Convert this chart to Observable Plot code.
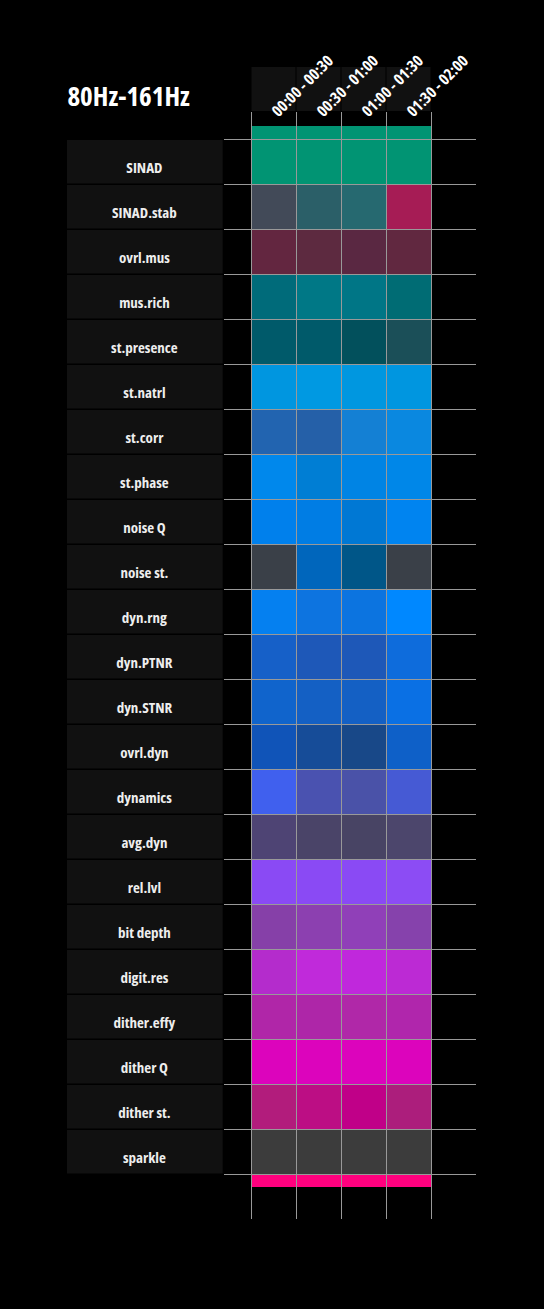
<!DOCTYPE html>
<html><head><meta charset="utf-8">
<script src="https://cdn.jsdelivr.net/npm/d3@7"></script>
<script src="https://cdn.jsdelivr.net/npm/@observablehq/plot@0.6"></script>
<style>
html,body{margin:0;padding:0;background:#000;}
#chart svg{display:block;}
</style></head><body><div id="chart"></div>
<script>
const title = "80Hz-161Hz";
const periods = ["00:00 - 00:30", "00:30 - 01:00", "01:00 - 01:30", "01:30 - 02:00"];
const metrics = ["SINAD", "SINAD.stab", "ovrl.mus", "mus.rich", "st.presence", "st.natrl", "st.corr",
  "st.phase", "noise Q", "noise st.", "dyn.rng", "dyn.PTNR", "dyn.STNR", "ovrl.dyn", "dynamics",
  "avg.dyn", "rel.lvl", "bit depth", "digit.res", "dither.effy", "dither Q", "dither st.", "sparkle"];
const col1 = ["#019473","#424a58","#632640","#006b7a","#005a6a","#0096e0","#2264b0","#0088ec","#0080ec","#3a4048","#0580f0","#1660c8","#1064cc","#1054b8","#4060ee","#4e4474","#8a4af4","#8640a8","#b42ccc","#b026a8","#dc04bc","#b21c7c","#3c3c3c"];
const col2 = ["#019473","#2b5f68","#5d2a40","#007886","#005a6a","#0099e2","#2560a8","#007ed4","#007de4","#0066bc","#0d74e0","#1e58b8","#1460c4","#164c98","#4a52b0","#4a4468","#8a4af4","#8c40b0","#c02ada","#ae26a8","#dc04bc","#bc0e84","#3c3c3c"];
const col3 = ["#019473","#266970","#5a2842","#007686","#02505c","#0097e0","#1480d4","#0084e4","#0078d4","#005688","#0c74e0","#1e58b8","#1460c4","#184888","#4a52a8","#484464","#8a4af4","#9040b8","#c028dc","#b028a8","#dc04bc","#c00088","#3c3c3c"];
const col4 = ["#019473","#a61c55","#612840","#006c74","#1b4f58","#0096e0","#0a88e0","#0087e8","#0084f0","#3a4048","#0088ff","#0e6cdc","#0a70e4","#0e60c8","#465ad4","#4c466c","#8c4cf4","#8642ac","#bc2ad4","#b026ac","#dc04bc","#ac1e7c","#3c3c3c"];
const capColor = "#ff007e";

const columns = [col1, col2, col3, col4];
const cells = metrics.flatMap((m, i) => periods.map((p, j) => ({metric: m, period: p, row: i, col: j, color: columns[j][i]})));
const topCap = periods.map((p, j) => ({col: j, color: columns[j][0]}));
const bottomCap = periods.map((p, j) => ({col: j, color: capColor}));
const rows = metrics.map((m, i) => ({metric: m, row: i}));
const heads = periods.map((p, j) => ({period: p, col: j}));

const cap = 13 / 45;
const font = "'Open Sans', sans-serif";

const chart = Plot.plot({
  width: 544, height: 1309,
  marginLeft: 251, marginRight: 113, marginTop: 139, marginBottom: 135,
  style: {background: "#000", fontFamily: font, fontStretch: "condensed"},
  x: {type: "linear", domain: [0, periods.length], axis: null},
  y: {type: "linear", domain: [0, metrics.length], reverse: true, axis: null},
  color: {type: "identity"},
  marks: [
    Plot.rect(heads, {x1: "col", x2: d => d.col + 1, y1: -1.6, y2: -0.622, fill: "#111", insetLeft: 0.5, insetRight: 0.5}),
    Plot.rect(rows, {x1: -4.09, x2: -0.63, y1: "row", y2: d => d.row + 1, fill: "#111", insetTop: 1, insetBottom: 0.5}),
    Plot.text(rows, {x: -2.38, y: d => d.row + 0.5, text: "metric", dy: 6.3, fill: "#eee", fontSize: 15, fontWeight: "bold"}),
    Plot.rect(cells, {x1: "col", x2: d => d.col + 1, y1: "row", y2: d => d.row + 1, fill: "color"}),
    Plot.rect(topCap, {x1: "col", x2: d => d.col + 1, y1: -cap, y2: 0, fill: "color"}),
    Plot.rect(bottomCap, {x1: "col", x2: d => d.col + 1, y1: metrics.length, y2: metrics.length + cap, fill: "color"}),
    Plot.ruleY(d3.range(0, metrics.length + 1), {x1: -0.6, x2: periods.length + 1, stroke: "#999", strokeWidth: 1}),
    Plot.ruleX(d3.range(0, periods.length + 1), {y1: -0.6, y2: metrics.length + 1, stroke: "#999", strokeWidth: 1}),
    Plot.text(heads, {x: d => d.col + 0.5 + 0.02, y: -0.565, text: "period", rotate: -45, textAnchor: "start", fill: "#fff", fontSize: 16, fontWeight: "bold"}),
    Plot.text([title], {x: -4.09, y: -0.947, text: d => d, textAnchor: "start", fill: "#fff", fontSize: 27, fontWeight: "bold"})
  ]
});
document.getElementById("chart").append(chart);
</script></body></html>
